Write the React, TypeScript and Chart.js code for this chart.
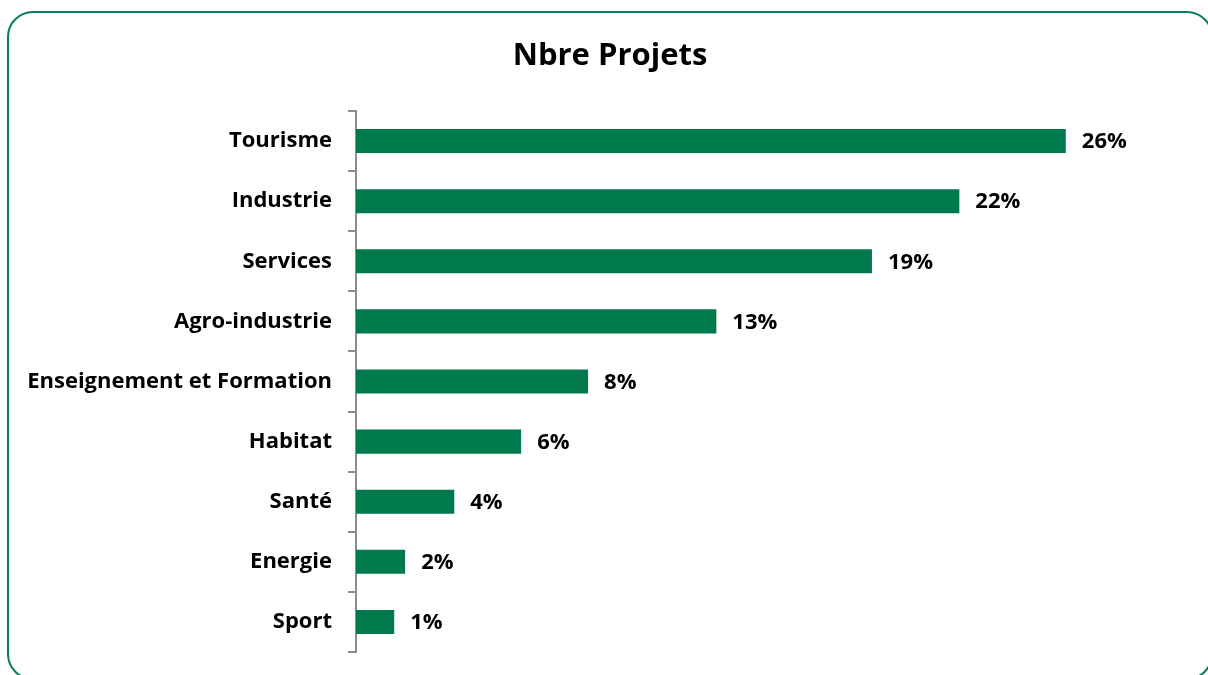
import React, { useEffect, useRef } from "react";
import { Chart, registerables } from "chart.js";

Chart.register(...registerables);

const categories = [
  "Tourisme",
  "Industrie",
  "Services",
  "Agro-industrie",
  "Enseignement et Formation",
  "Habitat",
  "Santé",
  "Energie",
  "Sport",
];
const values = [26, 22.1, 18.9, 13.2, 8.5, 6.05, 3.6, 1.8, 1.4];
const valueLabels = ["26%", "22%", "19%", "13%", "8%", "6%", "4%", "2%", "1%"];
const title = "Nbre Projets";

const GREEN = "#007a4d";
const FONT = "'Open Sans', sans-serif";

const valueLabelPlugin = {
  id: "valueLabels",
  afterDatasetsDraw(chart: any) {
    const ctx = chart.ctx;
    const meta = chart.getDatasetMeta(0);
    ctx.save();
    ctx.font = `bold 22px ${FONT}`;
    ctx.fillStyle = "#000";
    ctx.textAlign = "left";
    ctx.textBaseline = "middle";
    meta.data.forEach((bar: any, i: number) => {
      ctx.fillText(valueLabels[i], bar.x + 16, bar.y + 1);
    });
    ctx.restore();
  },
};

const titlePlugin = {
  id: "customTitle",
  afterDraw(chart: any) {
    const ctx = chart.ctx;
    ctx.save();
    ctx.font = `bold 31px ${FONT}`;
    ctx.fillStyle = "#000";
    ctx.textAlign = "center";
    ctx.textBaseline = "middle";
    ctx.fillText(title, 610, 56);
    ctx.restore();
  },
};

export default function App() {
  const ref = useRef<HTMLCanvasElement>(null);
  useEffect(() => {
    if (!ref.current) return;
    const chart = new Chart(ref.current, {
      type: "bar",
      data: {
        labels: categories,
        datasets: [
          {
            data: values,
            backgroundColor: GREEN,
            borderWidth: 0,
            categoryPercentage: 1,
            barPercentage: 0.4,
          },
        ],
      },
      options: {
        indexAxis: "y",
        animation: false,
        responsive: false,
        maintainAspectRatio: false,
        layout: { padding: { left: 0, right: 33, top: 111, bottom: 23 } },
        plugins: {
          legend: { display: false },
          tooltip: { enabled: false },
          title: { display: false },
        },
        scales: {
          x: {
            display: false,
            min: 0,
            max: 30,
          },
          y: {
            afterFit(scale: any) {
              scale.width = 356;
              scale.paddingTop = 0;
              scale.paddingBottom = 0;
            },
            border: { display: true, color: "#8c8c8c", width: 2 },
            grid: {
              display: true,
              offset: true,
              drawOnChartArea: false,
              drawTicks: true,
              tickLength: 8,
              color: "#8c8c8c",
              lineWidth: 2,
            },
            ticks: {
              color: "#000",
              padding: 16,
              font: { family: FONT, size: 22, weight: "bold" },
            },
          },
        },
      },
      plugins: [valueLabelPlugin, titlePlugin],
    });
    return () => chart.destroy();
  }, []);

  return (
    <div
      style={{
        position: "fixed",
        left: 0,
        top: 0,
        width: 1208,
        height: 675,
        overflow: "hidden",
        background: "#fff",
      }}
    >
      <div
        style={{
          position: "absolute",
          left: 7,
          top: 11,
          width: 1206,
          height: 669,
          border: "2.5px solid #0b7d52",
          borderRadius: 26,
          boxSizing: "border-box",
        }}
      />
      <canvas
        ref={ref}
        width={1208}
        height={675}
        style={{ position: "absolute", left: 0, top: 0, width: 1208, height: 675 }}
      />
    </div>
  );
}
